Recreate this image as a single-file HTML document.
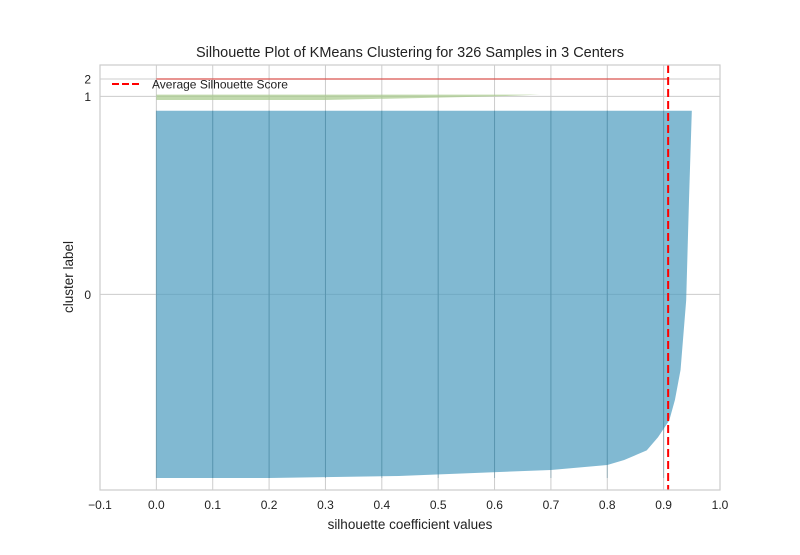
<!DOCTYPE html>
<html><head><meta charset="utf-8"><style>
body{margin:0;background:#fff;font-family:"Liberation Sans",sans-serif}
</style></head><body>
<svg id="chart" width="800" height="550" xmlns="http://www.w3.org/2000/svg" font-family="Liberation Sans, sans-serif">
<rect width="800" height="550" fill="#fff"/>
<g id="grid"></g>
<g id="marks"></g>
<g id="ticks"></g>
<rect x="100" y="65" width="620" height="425" fill="none" stroke="#ccc" stroke-width="1.2"/>
<text x="410" y="57" font-size="14.5" text-anchor="middle" fill="#222">Silhouette Plot of KMeans Clustering for 326 Samples in 3 Centers</text>
<text x="410" y="529" font-size="13.5" text-anchor="middle" fill="#222">silhouette coefficient values</text>
<text transform="translate(73,277) rotate(-90)" font-size="13.5" text-anchor="middle" fill="#222">cluster label</text>
<g>
<line x1="112" y1="84" x2="141" y2="84" stroke="#f00" stroke-width="2" stroke-dasharray="7,3"/>
<text x="152" y="88.5" font-size="12" fill="#222">Average Silhouette Score</text>
</g>
</svg>
<script>
const xTicks=[-0.1,0,0.1,0.2,0.3,0.4,0.5,0.6,0.7,0.8,0.9,1.0];
const yLabels=["0","1","2"];
const yLabelPos=[163,328,342.5];
const c0Idx=[0,1.7,6.7,10.8,15,23,34,48,65,90,148,232,306];
const c0Val=[0.20,0.43,0.70,0.80,0.83,0.87,0.89,0.91,0.92,0.93,0.94,0.945,0.95];
const c1Idx=[0,1.5,3,4.5];
const c1Val=[0.3,0.45,0.6,0.68];
const c2Val=[0.908];
const avgScore=0.908;
const clusterStart=[10,325,342];
const NS="http://www.w3.org/2000/svg";
const X=v=>100+(v+0.1)/1.1*620;
const Y=d=>490-d*1.2;
const fmt=v=>(v<0?"\u2212":"")+Math.abs(v).toFixed(1);
const g=document.getElementById('grid'),m=document.getElementById('marks'),t=document.getElementById('ticks');
function mk(p,tag,a){const e=document.createElementNS(NS,tag);for(const k in a)e.setAttribute(k,a[k]);p.appendChild(e);return e;}
xTicks.forEach(v=>{
 const l=mk(g,'line',{x1:X(v),x2:X(v),y1:65,y2:490,stroke:'#ccc','stroke-width':1});
 
 
 const tx=mk(t,'text',{x:X(v),y:509,'font-size':12,'text-anchor':'middle',fill:'#222'});
 tx.textContent=fmt(v);
 
 
});
yLabels.forEach((s,i)=>{
 const l=mk(g,'line',{x1:100,x2:720,y1:Y(yLabelPos[i]),y2:Y(yLabelPos[i]),stroke:'#ccc','stroke-width':1});
 
 
 const tx=mk(t,'text',{x:91,y:Y(yLabelPos[i])+4.5,'font-size':12,'text-anchor':'end',fill:'#222'});
 tx.textContent=s;
 
 
});
function poly(idx,val,start,fill,name){
 let pts=[[X(0),Y(start+idx[0])]];
 idx.forEach((d,i)=>pts.push([X(val[i]),Y(start+d)]));
 pts.push([X(0),Y(start+idx[idx.length-1])]);
 const p=mk(m,'polygon',{points:pts.map(p=>p.join(',')).join(' '),fill:fill,opacity:0.7});
 
 
}
poly(c0Idx,c0Val,clusterStart[0],'#4c9bbf','cluster-0-silhouette');
poly(c1Idx,c1Val,clusterStart[1],'#a6c98a','cluster-1-silhouette');
const r=mk(m,'line',{x1:X(0),x2:X(c2Val[0]),y1:Y(yLabelPos[2]),y2:Y(yLabelPos[2]),stroke:'#d9534f','stroke-width':1.2});


xTicks.forEach(v=>{if(v>=0&&v<0.95){const l=mk(m,'line',{x1:X(v),x2:X(v),y1:Y(10),y2:Y(316),stroke:'#2a6f8a','stroke-width':1,opacity:0.35});
 
 }});
const a=mk(m,'line',{x1:X(avgScore),x2:X(avgScore),y1:65,y2:490,stroke:'#f00','stroke-width':2,'stroke-dasharray':'8,4'});


</script>
</body></html>
